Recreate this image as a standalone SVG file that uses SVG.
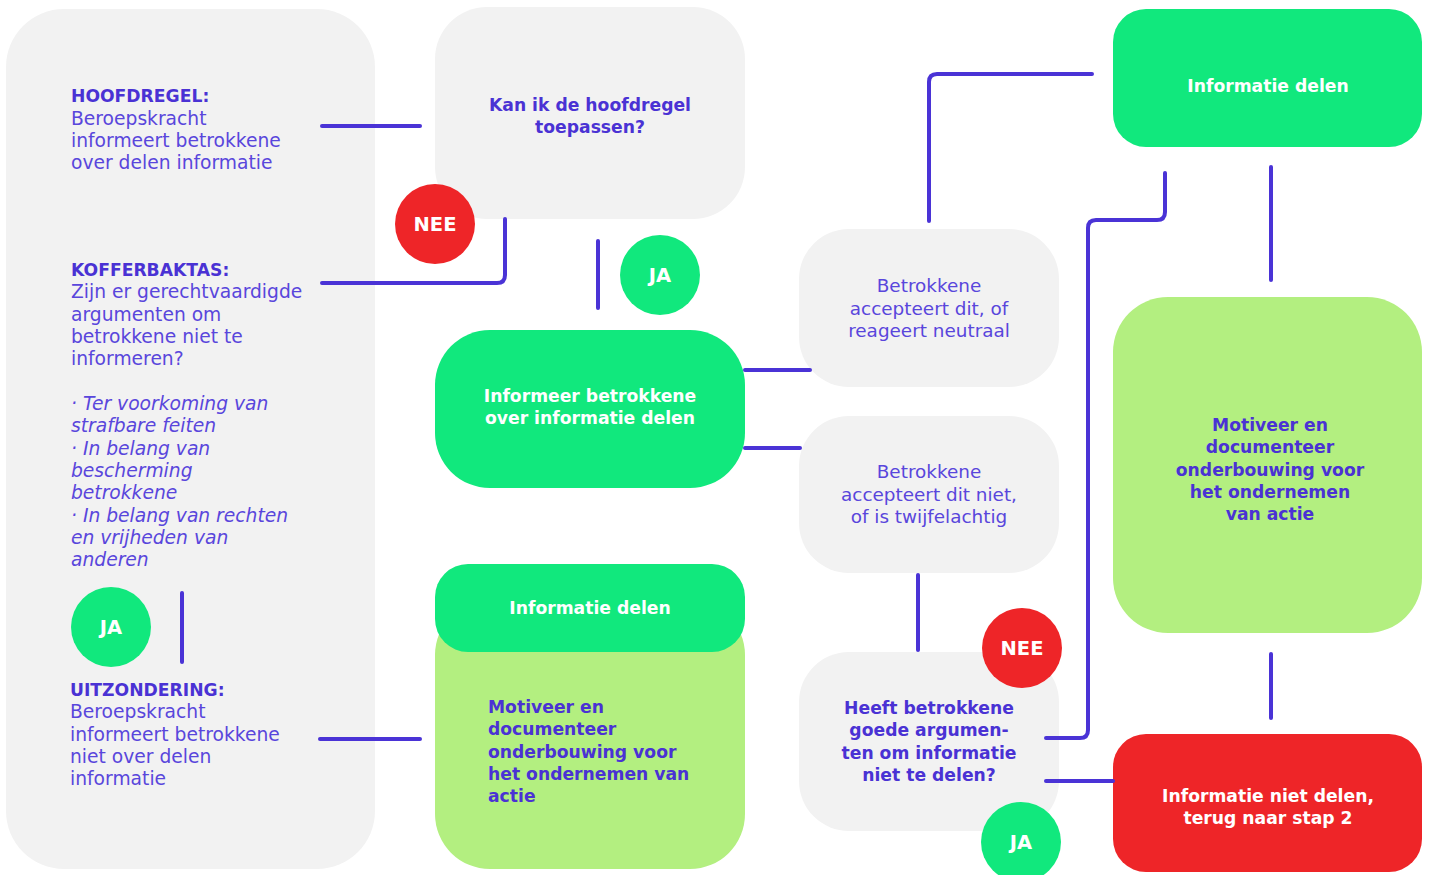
<svg xmlns="http://www.w3.org/2000/svg" width="1429" height="875" viewBox="0 0 1429 875">
<style>
.grey{fill:#f2f2f2}
.green{fill:#11e87d}
.lgreen{fill:#b3ef80}
.red{fill:#ee2528}
.t{font-family:"DejaVu Sans","Open Sans",sans-serif}
.reg{font-size:18.7px;fill:#5946dc;font-weight:400}
.regc{font-size:18.4px;fill:#5946dc;font-weight:400;text-anchor:middle}
.ital{font-size:18.7px;fill:#5946dc;font-style:italic}
.hb{font-size:17.2px;fill:#4a32d4;font-weight:700}
.qb{font-size:17.2px;fill:#4a32d4;font-weight:700;text-anchor:middle}
.wb{font-size:17.2px;fill:#ffffff;font-weight:700;text-anchor:middle}
.badge{font-size:19.5px;fill:#ffffff;font-weight:700;text-anchor:middle}
.conn{fill:none;stroke:#4a33d6;stroke-width:4;stroke-linecap:round;stroke-linejoin:round}
</style>

<g id="panel-left">
<rect class="grey" x="6" y="9" width="369" height="860" rx="58"/>
<text class="t hb" x="71" y="102">HOOFDREGEL:</text>
<text class="t reg" x="71" y="124.5">Beroepskracht</text>
<text class="t reg" x="71" y="147">informeert betrokkene</text>
<text class="t reg" x="71" y="169">over delen informatie</text>
<text class="t hb" x="71" y="276">KOFFERBAKTAS:</text>
<text class="t reg" x="71" y="298">Zijn er gerechtvaardigde</text>
<text class="t reg" x="71" y="320.5">argumenten om</text>
<text class="t reg" x="71" y="343">betrokkene niet te</text>
<text class="t reg" x="71" y="365">informeren?</text>
<text class="t ital" x="71" y="410">· Ter voorkoming van</text>
<text class="t ital" x="71" y="432.3">strafbare feiten</text>
<text class="t ital" x="71" y="454.6">· In belang van</text>
<text class="t ital" x="71" y="476.9">bescherming</text>
<text class="t ital" x="71" y="499.2">betrokkene</text>
<text class="t ital" x="71" y="521.5">· In belang van rechten</text>
<text class="t ital" x="71" y="543.8">en vrijheden van</text>
<text class="t ital" x="71" y="566.1">anderen</text>
<text class="t hb" x="70" y="696">UITZONDERING:</text>
<text class="t reg" x="70" y="718">Beroepskracht</text>
<text class="t reg" x="70" y="740.5">informeert betrokkene</text>
<text class="t reg" x="70" y="763">niet over delen</text>
<text class="t reg" x="70" y="785">informatie</text>
</g>

<g id="node-kan-ik">
<rect class="grey" x="435" y="7" width="310" height="212" rx="52"/>
<text class="t qb" x="590" y="111">Kan ik de hoofdregel</text>
<text class="t qb" x="590" y="133">toepassen?</text>
</g>

<g id="node-informeer">
<rect class="green" x="435" y="330" width="310" height="158" rx="55"/>
<text class="t wb" x="590" y="402">Informeer betrokkene</text>
<text class="t wb" x="590" y="424">over informatie delen</text>
</g>

<g id="node-motiveer-links">
<rect class="lgreen" x="435" y="600" width="310" height="269" rx="55"/>
<text class="t hb" x="488" y="713">Motiveer en</text>
<text class="t hb" x="488" y="735.3">documenteer</text>
<text class="t hb" x="488" y="757.6">onderbouwing voor</text>
<text class="t hb" x="488" y="780">het ondernemen van</text>
<text class="t hb" x="488" y="802">actie</text>
</g>

<g id="node-delen-links">
<rect class="green" x="435" y="564" width="310" height="88" rx="33"/>
<text class="t wb" x="590" y="613.5">Informatie delen</text>
</g>

<g id="node-accepteert">
<rect class="grey" x="799" y="229" width="260" height="158" rx="50"/>
<text class="t regc" x="929" y="292">Betrokkene</text>
<text class="t regc" x="929" y="314.5">accepteert dit, of</text>
<text class="t regc" x="929" y="337">reageert neutraal</text>
</g>

<g id="node-niet-accepteert">
<rect class="grey" x="799" y="416" width="260" height="157" rx="50"/>
<text class="t regc" x="929" y="478">Betrokkene</text>
<text class="t regc" x="929" y="500.5">accepteert dit niet,</text>
<text class="t regc" x="929" y="523">of is twijfelachtig</text>
</g>

<g id="node-heeft">
<rect class="grey" x="799" y="652" width="260" height="179" rx="50"/>
<text class="t qb" x="929" y="714">Heeft betrokkene</text>
<text class="t qb" x="929" y="736.3">goede argumen-</text>
<text class="t qb" x="929" y="758.6">ten om informatie</text>
<text class="t qb" x="929" y="781">niet te delen?</text>
</g>

<g id="node-delen-rechts">
<rect class="green" x="1113" y="9" width="309" height="138" rx="33"/>
<text class="t wb" x="1268" y="92">Informatie delen</text>
</g>

<g id="node-motiveer-rechts">
<rect class="lgreen" x="1113" y="297" width="309" height="336" rx="55"/>
<text class="t qb" x="1270" y="431">Motiveer en</text>
<text class="t qb" x="1270" y="453.3">documenteer</text>
<text class="t qb" x="1270" y="475.6">onderbouwing voor</text>
<text class="t qb" x="1270" y="498">het ondernemen</text>
<text class="t qb" x="1270" y="520">van actie</text>
</g>

<g id="node-niet-delen">
<rect class="red" x="1113" y="734" width="309" height="138" rx="33"/>
<text class="t wb" x="1268" y="802">Informatie niet delen,</text>
<text class="t wb" x="1268" y="824">terug naar stap 2</text>
</g>

<g id="connectors">
<path class="conn" d="M322,126 H420"/>
<path class="conn" d="M322,283 H497 Q505,283 505,275 V219"/>
<path class="conn" d="M598,241 V308"/>
<path class="conn" d="M745,370 H810"/>
<path class="conn" d="M745,448 H800"/>
<path class="conn" d="M929,221 V82 Q929,74 937,74 H1092"/>
<path class="conn" d="M918,575 V650"/>
<path class="conn" d="M1046,738 H1080 Q1088,738 1088,730 V228 Q1088,220 1096,220 H1157 Q1165,220 1165,212 V173"/>
<path class="conn" d="M1046,781 H1113"/>
<path class="conn" d="M1271,167 V280"/>
<path class="conn" d="M1271,654 V718"/>
<path class="conn" d="M182,593 V662"/>
<path class="conn" d="M320,739 H420"/>
</g>

<g id="badge-nee-1">
<circle class="red" cx="435" cy="224" r="40"/>
<text class="t badge" x="435" y="231">NEE</text>
</g>
<g id="badge-ja-1">
<circle class="green" cx="660" cy="275" r="40"/>
<text class="t badge" x="660" y="282">JA</text>
</g>
<g id="badge-ja-links">
<circle class="green" cx="111" cy="627" r="40"/>
<text class="t badge" x="111" y="634">JA</text>
</g>
<g id="badge-nee-2">
<circle class="red" cx="1022" cy="648" r="40"/>
<text class="t badge" x="1022" y="655">NEE</text>
</g>
<g id="badge-ja-2">
<circle class="green" cx="1021" cy="842" r="40"/>
<text class="t badge" x="1021" y="849">JA</text>
</g>
</svg>
